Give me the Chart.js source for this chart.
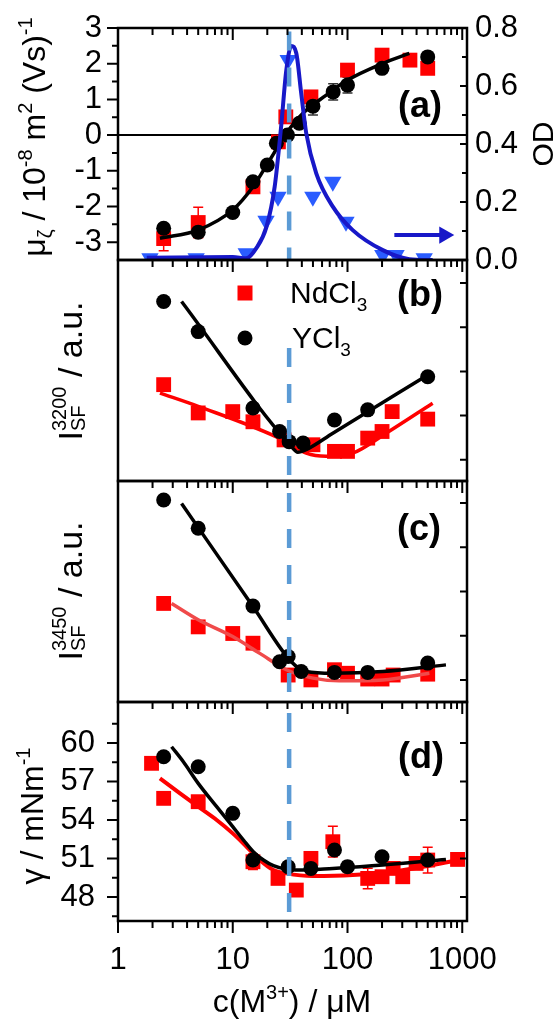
<!DOCTYPE html>
<html><head><meta charset="utf-8">
<script src="https://cdn.jsdelivr.net/npm/chart.js"></script>
<style>
html,body{margin:0;padding:0;background:#fff;}
body{width:558px;height:1019px;position:relative;overflow:hidden;}
canvas{position:absolute;left:0;}
</style></head><body>
<canvas id="ca" width="558" height="290" style="top:0px"></canvas>
<canvas id="cb" width="558" height="260" style="top:240px"></canvas>
<canvas id="cc" width="558" height="260" style="top:461px"></canvas>
<canvas id="cd" width="558" height="337" style="top:682px"></canvas>
<script>
const FONT = "'Liberation Sans', Arial, Helvetica, sans-serif";
Chart.defaults.font.family = FONT;
Chart.defaults.color = '#000';

// ---------- shared x axis ----------
const X_MIN = 1, X_MAX = 1100;
const X_TICKS = [1,2,3,4,5,6,7,8,9,10,20,30,40,50,60,70,80,90,100,200,300,400,500,600,700,800,900,1000];
const X_LABELS = [1,10,100,1000];
const VLINE_X = 31;

// ---------- panel (a): mobility + OD ----------
const a_Y_c   = [2.5, 5, 10, 15, 20, 24, 30, 38, 50, 75, 100, 200, 500];
const a_Y_mu  = [-2.61, -2.72, -2.17, -1.31, -0.84, -0.23, 0.0, 0.33, 0.81, 1.21, 1.40, 1.87, 2.19];
const a_Y_err = [0.12, 0.12, 0, 0, 0, 0, 0.1, 0.1, 0.25, 0.23, 0.22, 0, 0.1];
const a_Nd_c   = [2.5, 5, 15, 25, 29, 48, 100, 200, 350, 500];
const a_Nd_mu  = [-2.9, -2.45, -1.45, -0.19, 0.51, 1.07, 1.82, 2.24, 2.10, 1.87];
const a_Nd_err = [0.34, 0.43, 0, 0, 0, 0, 0, 0, 0, 0];
const a_fit_c  = [2.32, 5, 10, 15, 21, 29.3, 40.9, 65.3, 100, 203, 346];
const a_fit_mu = [-2.89, -2.66, -2.10, -1.45, -0.70, 0.05, 0.61, 1.12, 1.54, 2.01, 2.29];
const a_OD_c   = [1.9, 4.8, 13.1, 19.5, 24.8, 30.4, 49.9, 74.5, 97, 203, 265, 466];
const a_OD     = [0.006, 0.006, 0.023, 0.135, 0.218, 0.69, 0.218, 0.27, 0.132, 0.017, 0.017, 0.006];
const a_ODfit_c = [1.78, 10, 13.1, 16, 19.7, 23.2, 26.4, 29.3, 32.4, 35.8, 39.5, 43.7, 53.4, 74.5, 111, 203, 346, 552];
const a_ODfit   = [0.008, 0.010, 0.006, 0.040, 0.115, 0.253, 0.46, 0.655, 0.738, 0.713, 0.575, 0.437, 0.299, 0.184, 0.103, 0.034, 0.003, 0.0];
const a_arrow_c = [256, 697];
const a_arrow_od = [0.086, 0.086];
const A_YTICKS = [-3, -2, -1, 0, 1, 2, 3];
const A_ODTICKS = [0.0, 0.2, 0.4, 0.6, 0.8];

// ---------- panel (b): I_SF 3200 ----------
const b_Y_c  = [2.5, 5, 15, 25.6, 31, 41, 77, 150, 500];
const b_Y_v  = [4.58, 3.90, 2.17, 1.64, 1.41, 1.38, 1.90, 2.13, 2.88];
const b_Nd_c = [2.5, 5, 10, 15, 28, 50, 77, 100, 150, 200, 245, 500];
const b_Nd_v = [2.70, 2.06, 2.09, 1.86, 1.45, 1.34, 1.19, 1.19, 1.49, 1.64, 2.09, 1.92];
const b_fitY_c  = [3.58, 32.4, 36.9, 43.7, 74.5, 500];
const b_fitY_v  = [4.58, 1.30, 1.17, 1.23, 1.60, 2.92];
const b_fitNd_c = [2.32, 5, 27.4, 43.7, 65.3, 111, 217, 552];
const b_fitNd_v = [2.51, 2.21, 1.45, 1.15, 1.08, 1.15, 1.60, 2.28];
const B_TICKS = [1, 2, 3, 4, 5];

// ---------- panel (c): I_SF 3450 ----------
const c_Y_c  = [2.5, 5, 15, 25.6, 30.4, 39.5, 77, 150, 500];
const c_Y_v  = [5.07, 4.43, 2.67, 1.41, 1.53, 1.19, 1.17, 1.17, 1.38];
const c_Nd_c = [2.5, 5, 10, 15, 30.4, 48, 77, 100, 150, 200, 250, 500];
const c_Nd_v = [2.73, 2.20, 2.05, 1.83, 1.11, 1.0, 1.23, 1.15, 1.02, 1.02, 1.11, 1.13];
const c_fitY_c  = [3.58, 15, 32.4, 43.7, 74.5, 203, 721];
const c_fitY_v  = [4.99, 2.66, 1.41, 1.19, 1.15, 1.19, 1.34];
const c_fitNd_c = [2.93, 5, 10, 17.2, 29.3, 49.9, 84.8, 203, 517];
const c_fitNd_v = [2.73, 2.36, 1.98, 1.60, 1.23, 1.04, 0.98, 1.0, 1.15];
const C_TICKS = [1, 2, 3, 4, 5];

// ---------- panel (d): surface tension ----------
const d_Y_c   = [2.5, 5, 10, 15, 30.4, 48, 77, 100, 200, 500];
const d_Y_v   = [58.93, 58.15, 54.52, 50.88, 50.36, 50.23, 51.66, 50.36, 51.14, 50.88];
const d_Y_err = [0.35, 0.3, 0, 0.35, 0.35, 0.3, 0.3, 0.4, 0, 0.3];
const d_Nd_c   = [1.96, 2.5, 5, 15, 24.8, 35.8, 48, 74.5, 150, 200, 250, 303, 396, 500, 910];
const d_Nd_v   = [58.42, 55.69, 55.43, 50.75, 49.45, 48.54, 51.01, 52.31, 49.45, 49.58, 50.23, 49.58, 50.62, 50.88, 50.93];
const d_Nd_err = [0, 0, 0, 0.6, 0, 0, 0, 1.2, 0.8, 0, 0, 0, 0, 1.0, 0];
const d_fitY_c  = [2.93, 3.71, 5, 7.24, 10, 12.4, 15.1, 18.5, 22.6, 29.5, 38.5, 74.5, 203, 721];
const d_fitY_v  = [59.71, 58.54, 56.86, 55.04, 53.48, 52.44, 51.53, 50.88, 50.44, 50.16, 50.10, 50.23, 50.49, 50.93];
const d_fitNd_c = [2.32, 3.47, 5, 7.24, 10, 13.2, 17.2, 22.6, 29.3, 49.9, 111, 283, 942];
const d_fitNd_v = [57.25, 56.08, 55.04, 54.0, 52.96, 51.92, 50.88, 50.10, 49.84, 49.63, 49.71, 50.05, 50.88];
const D_TICKS = [48, 51, 54, 57, 60];
const D_MINOR = [46.5, 49.5, 52.5, 55.5, 58.5, 61.5];

// ---------- helpers ----------
const xy = (xs, ys) => xs.map((x, i) => ({x, y: ys[i]}));
const RED = '#FF0000', BLACK = '#000000', BLUE = '#1818C8', BLUE_PT = '#2A5CFF', DASH = '#5B9BD5';

function noPad(s) { s.paddingTop = 0; s.paddingBottom = 0; s.paddingLeft = 0; s.paddingRight = 0; }
function xScale(show) {
  return {
    type: 'logarithmic', position: 'bottom', min: X_MIN, max: X_MAX, display: show,
    grid: {display: false, drawTicks: false}, border: {display: false},
    afterBuildTicks: s => { s.ticks = X_TICKS.map(v => ({value: v})); },
    ticks: {display: show, autoSkip: false, minRotation: 0, maxRotation: 0, padding: 21,
      font: {size: 31}, color: '#000', callback: v => X_LABELS.includes(v) ? String(v) : ''},
    afterFit: s => { s.height = show ? 98 : 0; noPad(s); }
  };
}
function yScale(pos, min, max, tickVals, show, pad, width, fmt) {
  return {
    type: 'linear', position: pos, min, max, display: show,
    grid: {display: false, drawTicks: false}, border: {display: false},
    afterBuildTicks: s => { s.ticks = tickVals.map(v => ({value: v})); },
    ticks: {display: show, autoSkip: false, padding: pad, font: {size: 31}, color: '#000', callback: fmt || (v => String(v))},
    afterFit: s => { s.width = show ? width : 0; noPad(s); }
  };
}
const pts = (c, v, color, style, r, order, extra) => Object.assign({
  data: xy(c, v), showLine: false, pointStyle: style, pointRadius: r, pointHoverRadius: r,
  pointBackgroundColor: color, pointBorderWidth: 0, borderColor: color, order}, extra || {});
const fit = (c, v, color, w, order, extra) => Object.assign({
  data: xy(c, v), pointRadius: 0, borderColor: color, borderWidth: w,
  cubicInterpolationMode: 'monotone', fill: false, order}, extra || {});
const vline = (top, bottom, order) => ({
  data: [{x: VLINE_X, y: top}, {x: VLINE_X, y: bottom}], pointRadius: 0,
  borderColor: DASH, borderWidth: 4.5, borderDash: [19, 17], order});

function drawRich(ctx, segs, x, y, rotate) {
  ctx.save();
  ctx.translate(x, y);
  if (rotate) ctx.rotate(-Math.PI / 2);
  ctx.fillStyle = '#000';
  ctx.textBaseline = 'alphabetic';
  ctx.textAlign = 'left';
  const setF = s => { ctx.font = (s.b ? 'bold ' : '') + s.s + 'px ' + FONT; };
  const w = s => { setF(s); return s.stack ? Math.max(ctx.measureText(s.sub).width, ctx.measureText(s.sup).width) : ctx.measureText(s.t).width; };
  const total = segs.reduce((a, s) => a + w(s), 0);
  let cx = -total / 2;
  for (const s of segs) {
    const ww = w(s); setF(s);
    if (s.stack) { ctx.fillText(s.sub, cx, s.subDy); ctx.fillText(s.sup, cx, s.supDy); }
    else ctx.fillText(s.t, cx, s.dy || 0);
    cx += ww;
  }
  ctx.restore();
}
function panelLabel(ctx, t, x, y) {
  ctx.save(); ctx.fillStyle = '#000'; ctx.font = 'bold 36px ' + FONT;
  ctx.textAlign = 'center'; ctx.textBaseline = 'alphabetic'; ctx.fillText(t, x, y); ctx.restore();
}

const errPlugin = {
  id: 'errbars',
  beforeDatasetsDraw(chart) {
    const ctx = chart.ctx;
    chart.data.datasets.forEach((ds, i) => {
      if (!ds.errY) return;
      const meta = chart.getDatasetMeta(i);
      const ys = chart.scales[meta.yAxisID];
      ctx.save(); ctx.strokeStyle = ds.errColor; ctx.lineWidth = 1.5;
      meta.data.forEach((pt, j) => {
        const e = ds.errY[j]; if (!e) return;
        const v = ds.data[j].y;
        const y1 = ys.getPixelForValue(v - e), y2 = ys.getPixelForValue(v + e);
        ctx.beginPath();
        ctx.moveTo(pt.x, y1); ctx.lineTo(pt.x, y2);
        ctx.moveTo(pt.x - 5, y1); ctx.lineTo(pt.x + 5, y1);
        ctx.moveTo(pt.x - 5, y2); ctx.lineTo(pt.x + 5, y2);
        ctx.stroke();
      });
      ctx.restore();
    });
  }
};

const framePlugin = {
  id: 'frame',
  afterDatasetsDraw(chart, args, opts) {
    const {ctx, chartArea: {left, right, top, bottom}} = chart;
    const xs = chart.scales.x;
    ctx.save();
    ctx.strokeStyle = '#000'; ctx.lineWidth = 2;
    ctx.beginPath();
    for (const v of X_TICKS) {
      const px = xs.getPixelForValue(v);
      const len = X_LABELS.includes(v) ? 12 : 7;
      ctx.moveTo(px, top); ctx.lineTo(px, top + len);
      if (opts.bottomTicks) { ctx.moveTo(px, bottom); ctx.lineTo(px, bottom + len); }
    }
    if (opts.left) {
      const s = chart.scales[opts.left.id];
      for (const [v, len] of opts.left.ticks) { const py = s.getPixelForValue(v); ctx.moveTo(left, py); ctx.lineTo(left - len, py); }
    }
    if (opts.right) {
      const s = chart.scales[opts.right.id];
      for (const [v, len] of opts.right.ticks) { const py = s.getPixelForValue(v); ctx.moveTo(right, py); ctx.lineTo(right - len, py); }
    }
    ctx.stroke();
    ctx.lineWidth = 2.5;
    ctx.strokeRect(left, top, right - left, bottom - top);
    ctx.restore();
    if (opts.extra) opts.extra(ctx, chart);
  }
};

function makeChart(id, datasets, scales, padding, frameOpts) {
  return new Chart(document.getElementById(id), {
    type: 'line',
    data: {datasets},
    options: {
      responsive: false, animation: false, devicePixelRatio: 1,
      layout: {padding},
      scales,
      plugins: {legend: {display: false}, tooltip: {enabled: false}, frame: frameOpts}
    },
    plugins: [errPlugin, framePlugin]
  });
}

// ---------- chart (a) ----------
makeChart('ca', [
  vline(2.9, -3.5, 0),
  Object.assign(fit(a_ODfit_c, a_ODfit, BLUE, 4, 1), {yAxisID: 'y2'}),
  Object.assign(pts(a_OD_c, a_OD, BLUE_PT, 'triangle', 10, 2, {pointRotation: 180}), {yAxisID: 'y2'}),
  {data: xy(a_arrow_c, a_arrow_od), yAxisID: 'y2', borderColor: BLUE, borderWidth: 4, pointRadius: [0, 10],
   pointStyle: 'triangle', pointRotation: 90, pointBackgroundColor: BLUE, pointBorderWidth: 0, order: 1},
  fit(a_fit_c, a_fit_mu, BLACK, 3.5, 3),
  pts(a_Y_c, a_Y_mu, BLACK, 'circle', 7.5, 4, {errY: a_Y_err, errColor: '#333'}),
  pts(a_Nd_c, a_Nd_mu, RED, 'rect', 10.5, 5, {errY: a_Nd_err, errColor: RED}),
  {data: [{x: X_MIN, y: 0}, {x: X_MAX, y: 0}], pointRadius: 0, borderColor: BLACK, borderWidth: 2, order: 6}
], {
  x: xScale(false),
  y: yScale('left', -3.5, 3, A_YTICKS, true, 16, 118),
  y2: yScale('right', 0, 0.8, A_ODTICKS, true, 8, 91, v => v.toFixed(1))
}, {top: 28, bottom: 30, left: 0, right: 0}, {
  left: {id: 'y', ticks: [[-3,11],[-2,11],[-1,11],[0,11],[1,11],[2,11],[3,11],[-2.5,6],[-1.5,6],[-0.5,6],[0.5,6],[1.5,6],[2.5,6]]},
  right: {id: 'y2', ticks: [[0.2,7],[0.4,7],[0.6,7],[0.1,5],[0.3,5],[0.5,5],[0.7,5]]},
  extra: (ctx) => {
    panelLabel(ctx, '(a)', 420, 117);
    drawRich(ctx, [
      {t: 'μ', s: 32}, {t: 'ζ', s: 20, dy: 7}, {t: ' / 10', s: 32}, {t: '-8', s: 20, dy: -13},
      {t: ' m', s: 32}, {t: '2', s: 20, dy: -13}, {t: ' (Vs)', s: 32}, {t: '-1', s: 20, dy: -13}
    ], 45, 137, true);
    drawRich(ctx, [{t: 'OD', s: 30}], 553, 144, true);
  }
});

// ---------- chart (b) ----------
makeChart('cb', [
  vline(3.53, 0.52, 0),
  fit(b_fitY_c, b_fitY_v, BLACK, 3.5, 1),
  pts(b_Y_c, b_Y_v, BLACK, 'circle', 7.5, 2),
  fit(b_fitNd_c, b_fitNd_v, RED, 3.5, 3),
  pts(b_Nd_c, b_Nd_v, RED, 'rect', 10.5, 4)
], {
  x: xScale(false),
  y: yScale('left', 0.52, 5.52, B_TICKS, false, 0, 0)
}, {top: 20, bottom: 19, left: 118, right: 91}, {
  right: {id: 'y', ticks: B_TICKS.map(v => [v, 7])},
  extra: (ctx) => {
    panelLabel(ctx, '(b)', 420, 66);
    ctx.save();
    ctx.fillStyle = RED; ctx.fillRect(245 - 7.5, 53 - 7.5, 15, 15);
    ctx.fillStyle = BLACK; ctx.beginPath(); ctx.arc(245, 98, 7.5, 0, Math.PI * 2); ctx.fill();
    ctx.restore();
    const leg = (segs, x, y) => { ctx.save(); ctx.fillStyle = '#000'; ctx.textBaseline = 'alphabetic'; ctx.textAlign = 'left'; let cx = x;
      for (const s of segs) { ctx.font = s.s + 'px ' + FONT; ctx.fillText(s.t, cx, y + (s.dy || 0)); cx += ctx.measureText(s.t).width; } ctx.restore(); };
    leg([{t: 'NdCl', s: 30}, {t: '3', s: 19, dy: 8}], 290, 63);
    leg([{t: 'YCl', s: 30}, {t: '3', s: 19, dy: 8}], 292, 108);
    drawRich(ctx, [{t: 'I', s: 34}, {stack: true, sub: 'SF', sup: '3200', s: 20, subDy: 3, supDy: -16}, {t: ' / a.u.', s: 34}], 82, 131, true);
  }
});

// ---------- chart (c) ----------
makeChart('cc', [
  vline(5.23, 0.5, 0),
  fit(c_fitY_c, c_fitY_v, BLACK, 3.5, 1),
  pts(c_Y_c, c_Y_v, BLACK, 'circle', 7.5, 2),
  fit(c_fitNd_c, c_fitNd_v, '#F04A4A', 3.5, 3),
  pts(c_Nd_c, c_Nd_v, RED, 'rect', 10.5, 4)
], {
  x: xScale(false),
  y: yScale('left', 0.5, 5.5, C_TICKS, false, 0, 0)
}, {top: 20, bottom: 19, left: 118, right: 91}, {
  right: {id: 'y', ticks: C_TICKS.map(v => [v, 7])},
  extra: (ctx) => {
    panelLabel(ctx, '(c)', 419, 79);
    drawRich(ctx, [{t: 'I', s: 34}, {stack: true, sub: 'SF', sup: '3450', s: 20, subDy: 3, supDy: -16}, {t: ' / a.u.', s: 34}], 82, 130, true);
  }
});

// ---------- chart (d) ----------
makeChart('cd', [
  vline(62.34, 46.13, 0),
  fit(d_fitY_c, d_fitY_v, BLACK, 3.5, 1),
  pts(d_Y_c, d_Y_v, BLACK, 'circle', 7.5, 2, {errY: d_Y_err, errColor: '#333'}),
  fit(d_fitNd_c, d_fitNd_v, RED, 4, 3),
  pts(d_Nd_c, d_Nd_v, RED, 'rect', 10.5, 4, {errY: d_Nd_err, errColor: RED})
], {
  x: xScale(true),
  y: yScale('left', 46.13, 63.2, D_TICKS, true, 23, 118)
}, {top: 20, bottom: 0, left: 0, right: 91}, {
  bottomTicks: true,
  left: {id: 'y', ticks: D_TICKS.map(v => [v, 11]).concat(D_MINOR.map(v => [v, 6]))},
  right: {id: 'y', ticks: D_TICKS.map(v => [v, 7])},
  extra: (ctx) => {
    panelLabel(ctx, '(d)', 421, 86);
    drawRich(ctx, [{t: 'γ / mNm', s: 32}, {t: '-1', s: 20, dy: -13}], 43, 134, true);
    drawRich(ctx, [{t: 'c(M', s: 32}, {t: '3+', s: 20, dy: -13}, {t: ') / μM', s: 32}], 292, 330, false);
  }
});
</script></body></html>
